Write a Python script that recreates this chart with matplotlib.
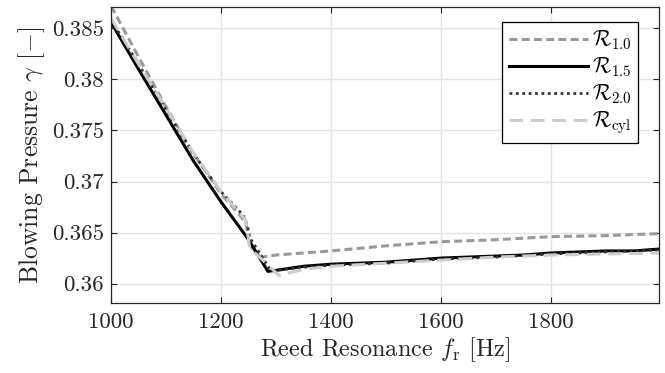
import matplotlib
matplotlib.use("Agg")
import matplotlib.pyplot as plt

# ------------------------------------------
# data
# ------------------------------------------
f_r10 = [1000, 1050, 1100, 1150, 1200, 1245, 1252, 1275, 1300, 1400, 1500, 1600, 1700, 1800, 1900, 2000]
g_r10 = [0.3872, 0.3822, 0.3773, 0.3727, 0.3688, 0.3660, 0.3637, 0.3626, 0.3628, 0.3632,
         0.3637, 0.3641, 0.3643, 0.3646, 0.3647, 0.3649]

f_r15 = [1000, 1050, 1100, 1150, 1200, 1250, 1285, 1300, 1350, 1400, 1450, 1500, 1550, 1600,
         1650, 1700, 1750, 1800, 1850, 1900, 1950, 2000]
g_r15 = [0.3856, 0.3810, 0.3765, 0.3720, 0.3680, 0.3643, 0.3612, 0.3613, 0.3617, 0.3619,
         0.3620, 0.3621, 0.3623, 0.3625, 0.3626, 0.3627, 0.3628, 0.3630, 0.3631, 0.3632,
         0.3632, 0.3634]

f_r20 = [1000, 1050, 1100, 1150, 1200, 1240, 1248, 1252, 1290, 1300, 1350, 1400, 1500, 1600,
         1700, 1800, 1900, 2000]
g_r20 = [0.3858, 0.3815, 0.3770, 0.3727, 0.3690, 0.3667, 0.3657, 0.3645, 0.3613, 0.3613,
         0.3616, 0.3618, 0.3620, 0.3624, 0.3626, 0.3629, 0.3631, 0.3633]

f_cyl = [1000, 1050, 1100, 1150, 1200, 1245, 1252, 1305, 1350, 1400, 1500, 1600, 1700, 1800, 1900, 2000]
g_cyl = [0.3860, 0.3815, 0.3772, 0.3728, 0.3690, 0.3662, 0.3635, 0.3608, 0.3614, 0.3617,
         0.3620, 0.3623, 0.3626, 0.3628, 0.3629, 0.3630]

labels = [r"$\mathcal{R}_{1.0}$", r"$\mathcal{R}_{1.5}$", r"$\mathcal{R}_{2.0}$", r"$\mathcal{R}_{\rm cyl}$"]
xticks = [1000, 1200, 1400, 1600, 1800]
yticks = [0.36, 0.365, 0.37, 0.375, 0.38, 0.385]
yticklabels = ["0.36", "0.365", "0.37", "0.375", "0.38", "0.385"]

# ------------------------------------------
# style
# ------------------------------------------
plt.rcParams["font.family"] = "serif"
plt.rcParams["font.serif"] = ["cmr10"]
plt.rcParams["mathtext.fontset"] = "cm"
plt.rcParams["axes.formatter.use_mathtext"] = True

fig = plt.figure(figsize=(6.65, 3.73), dpi=100)
ax = fig.add_axes([0.167, 0.1877, 0.824, 0.7936])

ax.plot(f_r10, g_r10, color="#999999", lw=2.2, dashes=(2.6, 1.4), label=labels[0])
ax.plot(f_r15, g_r15, color="black", lw=2.2, label=labels[1])
ax.plot(f_r20, g_r20, color="#333333", lw=2.0, dashes=(1.0, 1.3), label=labels[2])
ax.plot(f_cyl, g_cyl, color="#cccccc", lw=2.2, dashes=(4.5, 2.5), label=labels[3])

ax.set_xlim(1000, 1996)
ax.set_ylim(0.3581, 0.3871)
ax.set_xticks(xticks)
ax.set_xticklabels([str(v) for v in xticks])
ax.set_yticks(yticks)
ax.set_yticklabels(yticklabels)

ax.grid(True, color="#e3e3e3", linewidth=1.0)
ax.set_axisbelow(True)
ax.tick_params(direction="in", top=True, right=True, length=4, width=0.8,
               labelsize=16.5, colors="#262626")
ax.tick_params(axis="x", pad=7)
ax.tick_params(axis="y", pad=5)
for s in ax.spines.values():
    s.set_color("#262626")
    s.set_linewidth(0.9)

ax.set_xlabel(r"Reed Resonance $f_\mathrm{r}$ [Hz]", fontsize=17.5, color="#262626", labelpad=2)
ax.set_ylabel(r"Blowing Pressure $\gamma$ [$-$]", fontsize=18.5, color="#262626", labelpad=4)

leg = ax.legend(loc="upper right", bbox_to_anchor=(0.9617, 0.949), borderaxespad=0,
                fontsize=15.5, handlelength=3.7, labelspacing=0.15, fancybox=False,
                framealpha=1, edgecolor="black", borderpad=0.3, handletextpad=0.15)
leg.get_frame().set_linewidth(0.9)

fig.savefig("out.png", dpi=100)
